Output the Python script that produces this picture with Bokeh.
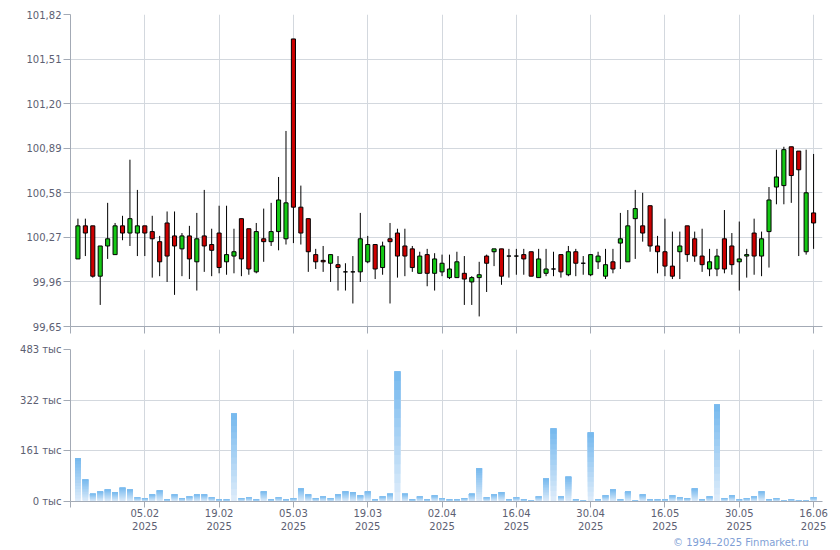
import numpy as np
from bokeh.plotting import figure
from bokeh.layouts import column
from bokeh.models import (FixedTicker, CustomJSTickFormatter, Range1d, Title,
                          ColumnDataSource)
from bokeh.embed import file_html
from bokeh.resources import INLINE

# ---------------- data ----------------
open_ = [100.12, 100.35, 100.35, 100.00, 100.21, 100.15, 100.35, 100.30, 100.30, 100.35,
         100.31, 100.24, 100.37, 100.28, 100.19, 100.28, 100.10, 100.28, 100.22, 100.30,
         100.10, 100.14, 100.40, 100.33, 100.03, 100.26, 100.24, 100.31, 100.26, 101.65,
         100.48, 100.40, 100.15, 100.11, 100.09, 100.08, 100.03, 100.03, 100.03, 100.10,
         100.22, 100.06, 100.26, 100.30, 100.21, 100.19, 100.02, 100.15, 100.02, 100.03,
         99.99, 99.99, 100.02, 99.96, 99.99, 100.14, 100.17, 100.19, 100.14, 100.14,
         100.15, 100.17, 99.99, 100.02, 100.05, 100.15, 100.01, 100.17, 100.09, 100.01,
         100.10, 100.00, 100.10, 100.23, 100.10, 100.40, 100.35, 100.49, 100.21, 100.17,
         100.07, 100.17, 100.35, 100.26, 100.14, 100.05, 100.05, 100.26, 100.21, 100.10,
         100.14, 100.30, 100.14, 100.31, 100.62, 100.63, 100.90, 100.87, 100.17, 100.44]
high = [100.40, 100.40, 100.35, 100.21, 100.51, 100.37, 100.42, 100.81, 100.60, 100.35,
        100.42, 100.28, 100.45, 100.45, 100.30, 100.35, 100.44, 100.60, 100.33, 100.49,
        100.49, 100.33, 100.40, 100.33, 100.37, 100.47, 100.51, 100.69, 101.01, 101.65,
        100.63, 100.40, 100.19, 100.21, 100.15, 100.14, 100.09, 100.14, 100.44, 100.28,
        100.22, 100.24, 100.37, 100.33, 100.33, 100.21, 100.17, 100.19, 100.16, 100.15,
        100.15, 100.17, 100.14, 100.00, 100.10, 100.15, 100.19, 100.19, 100.19, 100.19,
        100.19, 100.17, 100.19, 100.19, 100.17, 100.15, 100.21, 100.19, 100.14, 100.15,
        100.17, 100.19, 100.19, 100.44, 100.46, 100.60, 100.58, 100.49, 100.28, 100.40,
        100.31, 100.31, 100.35, 100.31, 100.33, 100.19, 100.19, 100.46, 100.30, 100.38,
        100.19, 100.40, 100.31, 100.62, 100.88, 100.90, 100.90, 100.87, 100.88, 100.85]
low = [100.12, 100.14, 99.99, 99.80, 100.12, 100.15, 100.25, 100.21, 100.14, 100.14,
       99.99, 100.00, 99.96, 99.87, 100.00, 99.98, 99.90, 100.03, 100.00, 100.02,
       100.01, 100.02, 100.00, 100.01, 100.02, 100.10, 100.21, 100.18, 100.22, 100.23,
       100.22, 100.03, 100.05, 100.03, 99.96, 99.90, 99.90, 99.81, 99.96, 100.09,
       99.98, 100.01, 99.81, 99.99, 100.00, 100.03, 100.02, 99.93, 99.90, 100.00,
       99.98, 99.99, 99.80, 99.80, 99.72, 99.89, 100.07, 99.94, 99.99, 100.01,
       100.01, 100.00, 99.99, 100.00, 100.00, 99.99, 100.00, 100.00, 100.01, 100.00,
       100.05, 99.98, 100.02, 100.05, 100.10, 100.12, 100.24, 100.17, 100.02, 100.00,
       99.98, 99.98, 100.10, 100.10, 100.03, 100.00, 100.00, 100.02, 100.01, 99.90,
       99.99, 100.01, 100.00, 100.06, 100.50, 100.50, 100.51, 100.14, 100.15, 100.19]
close = [100.35, 100.30, 100.00, 100.21, 100.26, 100.35, 100.30, 100.40, 100.35, 100.30,
         100.26, 100.10, 100.14, 100.21, 100.28, 100.12, 100.26, 100.21, 100.18, 100.06,
         100.15, 100.17, 100.12, 100.05, 100.31, 100.24, 100.31, 100.53, 100.51, 100.48,
         100.30, 100.17, 100.10, 100.10, 100.15, 100.06, 100.03, 100.03, 100.26, 100.22,
         100.05, 100.21, 100.24, 100.14, 100.14, 100.06, 100.14, 100.02, 100.12, 100.09,
         100.05, 100.10, 99.98, 99.99, 100.01, 100.09, 100.19, 100.00, 100.14, 100.14,
         100.12, 100.00, 100.12, 100.05, 100.05, 100.03, 100.17, 100.09, 100.09, 100.15,
         100.14, 100.08, 100.05, 100.26, 100.35, 100.47, 100.30, 100.21, 100.17, 100.07,
         100.00, 100.21, 100.15, 100.14, 100.08, 100.10, 100.14, 100.05, 100.08, 100.12,
         100.15, 100.14, 100.26, 100.53, 100.69, 100.88, 100.70, 100.74, 100.58, 100.37]
volume_k = [138, 70, 25, 32, 38, 29, 44, 38, 13, 10,
            22, 35, 6, 22, 10, 16, 22, 22, 13, 6,
            6, 280, 10, 13, 6, 32, 6, 13, 6, 10,
            41, 22, 10, 16, 10, 22, 32, 29, 19, 32,
            6, 16, 25, 413, 25, 6, 16, 6, 19, 10,
            6, 6, 10, 25, 106, 13, 22, 29, 6, 13,
            6, 3, 16, 73, 232, 16, 79, 6, 3, 219,
            6, 19, 38, 6, 32, 3, 22, 6, 6, 6,
            19, 13, 10, 41, 6, 16, 308, 10, 19, 6,
            10, 16, 32, 6, 10, 3, 6, 3, 3, 13]

tick_idx = [9, 19, 29, 39, 49, 59, 69, 79, 89, 99]
tick_dates = ["05.02", "19.02", "05.03", "19.03", "02.04",
              "16.04", "30.04", "16.05", "30.05", "16.06"]
tick_year = "2025"
price_ticks = [99.65, 99.96, 100.27, 100.58, 100.89, 101.20, 101.51, 101.82]
vol_ticks = [0, 161, 322, 483]
copyright_text = "© 1994–2025 Finmarket.ru"

# ---------------- styles ----------------
FONT = "DejaVu Sans"
LABEL_COLOR = "#5c6072"
GRID_COLOR = "#d3d8de"
AXIS_COLOR = "#a3aab5"
UP = "#14c814"
DOWN = "#cc0000"
W = 832
X_START, X_END = -1.0, 100.2

n = len(open_)
idx = np.arange(n)

def style(p):
    p.outline_line_color = None
    p.background_fill_color = "white"
    p.border_fill_color = "white"
    p.min_border_left = 70
    p.min_border_right = 10
    for ax in p.axis:
        ax.axis_line_color = AXIS_COLOR
        ax.major_tick_line_color = AXIS_COLOR
        ax.major_tick_out = 7
        ax.major_tick_in = 0
        ax.minor_tick_line_color = None
        ax.major_label_text_font = FONT
        ax.major_label_text_font_size = "10px"
        ax.major_label_text_color = LABEL_COLOR
        ax.major_label_standoff = 2
    p.grid.grid_line_color = GRID_COLOR
    p.grid.grid_line_width = 1

xticks = [-1] + tick_idx
xlabels = {-1: ""}
for i, d in zip(tick_idx, tick_dates):
    xlabels[i] = d + "\n" + tick_year

# ---------------- price panel ----------------
p1 = figure(width=W, height=340, output_backend="svg", toolbar_location=None,
            x_range=Range1d(X_START, X_END), y_range=Range1d(price_ticks[0], price_ticks[-1]))
style(p1)
p1.min_border_top = 14
p1.min_border_bottom = 14
p1.xaxis.ticker = FixedTicker(ticks=xticks)
p1.xaxis.major_label_overrides = {t: "" for t in xticks}
p1.xaxis.major_label_standoff = 0
p1.xgrid.ticker = FixedTicker(ticks=tick_idx)
p1.yaxis.ticker = FixedTicker(ticks=price_ticks)
p1.ygrid.ticker = FixedTicker(ticks=price_ticks)
p1.yaxis.formatter = CustomJSTickFormatter(code="return tick.toFixed(2).replace('.', ',');")

o = np.array(open_); c = np.array(close)
src = ColumnDataSource(dict(
    x=idx, high=high, low=low,
    top=np.maximum(o, c), bottom=np.minimum(o, c),
    color=[UP if cc >= oo else DOWN for oo, cc in zip(o, c)],
))
p1.segment(x0="x", y0="low", x1="x", y1="high", source=src, line_color="black", line_width=1)
p1.vbar(x="x", top="top", bottom="bottom", width=0.55, source=src,
        fill_color="color", line_color="black", line_width=1)

# ---------------- volume panel ----------------
p2 = figure(width=W, height=210, output_backend="svg", toolbar_location=None,
            x_range=p1.x_range, y_range=Range1d(vol_ticks[0], vol_ticks[-1]))
style(p2)
p2.min_border_top = 9
p2.min_border_bottom = 49
p2.xaxis.ticker = FixedTicker(ticks=xticks)
p2.xaxis.major_label_overrides = xlabels
p2.xaxis.major_label_standoff = 0
p2.xaxis.major_tick_out = 6
p2.xgrid.ticker = FixedTicker(ticks=tick_idx)
p2.yaxis.ticker = FixedTicker(ticks=vol_ticks)
p2.ygrid.ticker = FixedTicker(ticks=vol_ticks)
p2.yaxis.formatter = CustomJSTickFormatter(code="return Math.round(tick) + ' тыс';")

# gradient per bar: light at the bottom, stronger blue at the top.
# Each slice runs from its own start up to the bar top, so later slices overlap
# the earlier ones and no seams are left between them.
K = 14
top_rgb = np.array([116, 184, 238])
bot_rgb = np.array([224, 237, 250])
v = np.array(volume_k, dtype=float)
lefts, rights, bots, tops, cols = [], [], [], [], []
for k in range(K):
    t = (k + 0.5) / K
    rgb = (bot_rgb + (top_rgb - bot_rgb) * t).round().astype(int)
    col = "#%02x%02x%02x" % tuple(rgb)
    lefts.extend(idx - 0.385)
    rights.extend(idx + 0.385)
    bots.extend(v * k / K)
    tops.extend(v)
    cols.extend([col] * n)
p2.quad(left=lefts, right=rights, bottom=bots, top=tops, fill_color=cols, line_color=None)

p2.add_layout(Title(text=copyright_text, align="right", offset=14, standoff=0,
                    text_font=FONT, text_font_size="10px", text_font_style="normal",
                    text_color="#7f9fd6"), "below")

layout = column(p1, p2, spacing=0)
open("out.html", "w").write(file_html(layout, INLINE))
